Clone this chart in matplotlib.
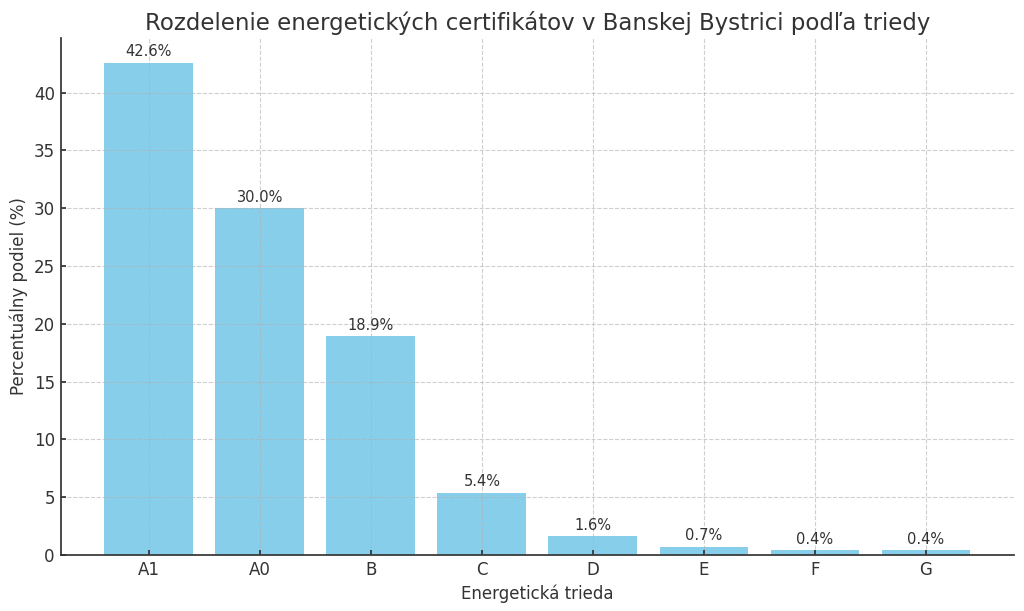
import matplotlib
matplotlib.use('Agg')
import matplotlib.pyplot as plt

classes = ["A1", "A0", "B", "C", "D", "E", "F", "G"]
shares = [42.6, 30.0, 18.9, 5.4, 1.6, 0.7, 0.4, 0.4]

plt.rcParams['font.family'] = 'DejaVu Sans'
plt.rcParams['text.color'] = '#333333'
plt.rcParams['axes.labelcolor'] = '#333333'
plt.rcParams['xtick.color'] = '#333333'
plt.rcParams['ytick.color'] = '#333333'
plt.rcParams['axes.edgecolor'] = '#333333'
plt.rcParams['axes.linewidth'] = 1.25
plt.rcParams['xtick.major.width'] = 1.25
plt.rcParams['ytick.major.width'] = 1.25
plt.rcParams['xtick.direction'] = 'in'
plt.rcParams['ytick.direction'] = 'in'
plt.rcParams['xtick.major.size'] = 3.5
plt.rcParams['ytick.major.size'] = 3.5

fig, ax = plt.subplots(figsize=(10.24, 6.11), dpi=100)
bars = ax.bar(classes, shares, color="skyblue")
for b, v in zip(bars, shares):
    ax.text(b.get_x() + b.get_width() / 2, v + 0.3, f"{v:.1f}%",
            ha="center", va="bottom", fontsize=10.5)

ax.set_title("Rozdelenie energetických certifikátov v Banskej Bystrici podľa triedy", fontsize=16.5)
ax.set_xlabel("Energetická trieda", fontsize=12)
ax.set_ylabel("Percentuálny podiel (%)", fontsize=12)
ax.tick_params(labelsize=12, pad=4.5)
ax.set_axisbelow(False)
ax.grid(True, linestyle="--", color="#b0b0b0", alpha=0.6, linewidth=0.8)
ax.spines["top"].set_visible(False)
ax.spines["right"].set_visible(False)
ax.set_ylim(0, max(shares) * 1.05)

plt.subplots_adjust(left=0.0596, right=0.990, top=0.938, bottom=0.0917)
plt.savefig("out.png")
